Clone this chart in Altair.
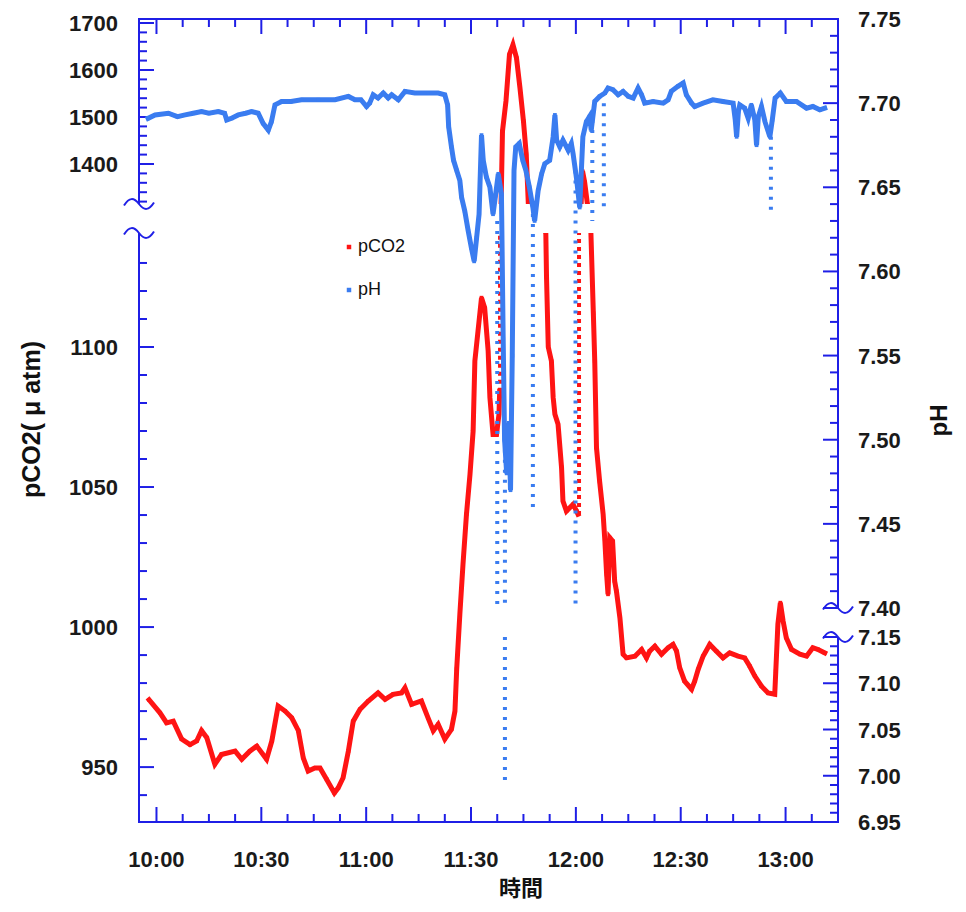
import altair as alt
import pandas as pd

# ---------------- styling ----------------
W, H = 699, 803
RED = "#ff1414"
BLUE = "#3a7cf0"
FRAME = "#1f1fe6"
FONT = "Liberation Sans"
TEXT = "#1a1a1a"
SQUIGGLE = "M-1,0.1 C-0.65,-0.45 -0.35,-0.45 0,0 C0.35,0.45 0.65,0.45 1,-0.1"

# ---------------- data (time = minutes after midnight) ----------------
# pCO2 (uatm), three continuous stretches of the trace
PCO2_T1 = [597.9, 601.0, 602.9, 604.8, 607.2, 609.6, 611.5, 612.9, 614.4, 616.7,
           618.6, 622.5, 624.4, 626.7, 628.7, 631.5, 633.0, 634.8, 636.8, 638.7,
           640.6, 642.0, 643.4, 645.3, 646.8, 648.7, 650.9, 652.0, 653.4, 654.9,
           656.3, 658.2, 660.6, 663.4, 665.4, 667.7, 670.1, 671.1, 673.0, 675.8,
           677.7, 679.2, 680.6, 682.5, 684.4, 685.4, 685.9, 686.8, 687.7, 688.7,
           689.7, 690.6, 691.1, 692.0, 693.0, 693.9, 694.9, 695.4, 696.3, 697.3,
           698.0, 698.2]
PCO2_V1 = [974, 969.4, 965.8, 966.4, 960, 958, 959.3, 963, 960.5, 951,
           954.5, 955.7, 952.8, 955.7, 957.5, 952.8, 959.3, 971.8, 970, 967.6,
           963, 953.3, 948.6, 949.7, 949.7, 945.6, 940.8, 942.6, 946.2, 955.7,
           966.4, 970.6, 973.6, 976.5, 974.2, 976, 976.5, 978.3, 972.4, 973.6,
           967.6, 963, 965.3, 960, 963.5, 970, 985, 1004.5, 1022.4, 1040.3,
           1054.5, 1070, 1095, 1105.7, 1117.6, 1114, 1098.6, 1082, 1068.8, 1068.8,
           1076, 1084.3]
PCO2_T2 = [698.6, 699.0, 700.0, 701.0, 702.0, 703.0, 704.0, 705.0, 705.8, 706.4,
           711.4, 711.6, 712.1, 713.0, 713.5, 714.0, 714.9, 715.9, 716.3, 717.3,
           719.2, 720.2, 720.6]
PCO2_V2 = [1314, 1470, 1534, 1633, 1654, 1626, 1562, 1491.5, 1420.6, 1314,
           1141, 1125, 1100, 1095, 1082, 1076, 1072.4, 1057, 1045, 1041.4,
           1043.8, 1041.4, 1040.3]
PCO2_T3 = [721.5, 721.9, 722.5, 723.3, 724.3, 725.0, 725.4, 725.9, 726.8, 727.8,
           728.3, 728.8, 729.2, 729.7, 730.5, 731.1, 731.6, 732.6, 733.5, 734.5,
           736.9, 738.8, 740.2, 741.1, 742.6, 744.5, 746.4, 747.8, 748.8, 749.7,
           751.1, 753.1, 754.0, 755.0, 756.4, 758.3, 760.2, 762.1, 764.0, 766.4,
           768.3, 769.7, 771.2, 773.1, 775.0, 776.9, 777.2, 777.8, 778.5, 779.3,
           780.2, 781.7, 784.1, 786.0, 787.8, 789.3, 791.2]
PCO2_V3 = [1314, 1385, 1362, 1314, 1141, 1112, 1095, 1064, 1052, 1040.3,
           1030.7, 1018.8, 1011.7, 1031.9, 1030.7, 1016.4, 1012.9, 1003.3, 990.3, 989,
           989.6, 992, 989, 991.4, 993.2, 990.3, 992.6, 993.8, 991.4, 985.5,
           980.7, 977.8, 980.7, 984.9, 989.6, 993.8, 991.4, 989, 990.8, 989.6,
           989, 986.1, 982.5, 978.9, 976.5, 976, 984.3, 1001, 1008.7, 1002.1,
           996.2, 992, 990.3, 989.6, 992.6, 992, 990.8]
# sparse (dotted) pCO2 jumps
PCO2_DOT_T = [698.3, 720.9]
PCO2_DOT_LOW = [1084, 1040]
PCO2_DOT_HIGH = [1141, 1141]

# pH trace
PH_T = [597.6, 599.6, 603.4, 606.0, 608.2, 610.5, 612.9, 615.0, 617.7, 619.5,
        620.1, 621.5, 623.4, 625.5, 627.2, 629.1, 630.5, 632.0, 632.9, 633.9,
        635.8, 638.5, 641.5, 646.3, 651.1, 654.9, 656.8, 658.5, 660.1, 661.0,
        662.0, 663.4, 664.9, 666.3, 667.3, 669.2, 671.1, 673.9, 677.7, 680.6,
        682.5, 683.3, 683.6, 684.4, 685.0, 685.9, 686.8, 687.3, 688.2, 689.2,
        690.1, 690.9, 691.6, 692.3, 693.0, 693.5, 694.4, 695.4, 696.3, 697.0,
        697.8, 698.7, 699.2, 699.6, 700.2, 700.8, 701.3, 701.8, 702.3, 702.8,
        703.8, 704.8, 705.7, 706.7, 707.7, 708.2, 709.2, 710.2, 711.1, 712.5,
        713.5, 714.0, 714.5, 715.4, 716.3, 717.8, 718.7, 719.2, 720.2, 721.1,
        722.0, 723.0, 723.9, 724.4, 725.4, 726.8, 728.3, 729.2, 730.6, 732.1,
        733.5, 735.0, 736.4, 737.8, 738.8, 739.7, 742.1, 745.0, 746.4, 747.3,
        749.2, 750.7, 751.6, 753.1, 754.0, 756.4, 759.2, 762.1, 765.0, 765.6,
        766.0, 766.5, 766.9, 768.3, 769.3, 770.2, 771.2, 771.7, 772.2, 773.1,
        774.1, 775.5, 776.2, 777.0, 778.5, 780.2, 783.1, 786.0, 787.8, 789.8,
        791.2]
PH_V = [7.691, 7.693, 7.694, 7.692, 7.693, 7.694, 7.695, 7.694, 7.695, 7.694,
        7.690, 7.691, 7.693, 7.694, 7.695, 7.694, 7.688, 7.684, 7.689, 7.699,
        7.701, 7.701, 7.702, 7.702, 7.702, 7.704, 7.702, 7.702, 7.698, 7.700,
        7.705, 7.703, 7.706, 7.703, 7.705, 7.702, 7.707, 7.706, 7.706, 7.706,
        7.705, 7.699, 7.686, 7.674, 7.666, 7.660, 7.654, 7.644, 7.636, 7.624,
        7.614, 7.606, 7.620, 7.634, 7.681, 7.666, 7.656, 7.650, 7.634, 7.645,
        7.658, 7.646, 7.560, 7.500, 7.480, 7.510, 7.470, 7.550, 7.660, 7.674,
        7.676, 7.666, 7.660, 7.650, 7.638, 7.630, 7.648, 7.658, 7.664, 7.666,
        7.680, 7.693, 7.678, 7.674, 7.678, 7.672, 7.676, 7.670, 7.655, 7.638,
        7.680, 7.689, 7.692, 7.684, 7.701, 7.704, 7.706, 7.709, 7.708, 7.705,
        7.707, 7.704, 7.703, 7.709, 7.705, 7.700, 7.701, 7.700, 7.702, 7.707,
        7.710, 7.712, 7.705, 7.700, 7.698, 7.700, 7.702, 7.701, 7.700, 7.690,
        7.680, 7.695, 7.699, 7.697, 7.691, 7.699, 7.690, 7.675, 7.692, 7.698,
        7.689, 7.680, 7.690, 7.703, 7.706, 7.701, 7.701, 7.697, 7.698, 7.696,
        7.697]
# sparse (dotted) pH excursions
PH_SPIKE_T = [697.5, 699.7, 699.7, 707.7, 719.9, 724.7, 728.0, 775.8]
PH_SPIKE_TOP = [7.63, 7.50, 7.15, 7.64, 7.66, 7.69, 7.70, 7.68]
PH_SPIKE_BOTTOM = [7.40, 7.40, 6.995, 7.46, 7.40, 7.63, 7.635, 7.635]

# axis definitions (broken axes: piecewise scales)
PCO2_DOMAIN = [930.4, 1140.7, 1314.9, 1708.5]
PCO2_RANGE = [H, 214, 185, 0]
PH_DOMAIN = [6.95, 7.15, 7.40, 7.75]
PH_RANGE = [H, 618, 589, 0]
TIME_DOMAIN = [595, 795]

PCO2_LABELS = [950, 1000, 1050, 1100, 1400, 1500, 1600, 1700]
PCO2_MINOR = [v for v in range(940, 1140, 10) if v not in PCO2_LABELS] + \
             [v for v in range(1320, 1700, 20) if v not in PCO2_LABELS]
PH_LABELS = [6.95, 7.00, 7.05, 7.10, 7.15, 7.40, 7.45, 7.50, 7.55, 7.60, 7.65, 7.70, 7.75]
PH_MINOR = [round(6.95 + i * 0.01, 2) for i in range(21)] + [round(7.40 + i * 0.01, 2) for i in range(36)]
PH_MINOR = [v for v in PH_MINOR if round(v * 100) % 5 != 0]
TIME_LABELS = [600, 630, 660, 690, 720, 750, 780]
TIME_LABEL_TEXT = ["10:00", "10:30", "11:00", "11:30", "12:00", "12:30", "13:00"]
TIME_MINOR = [600 + 7.5 * i for i in range(26) if (7.5 * i) % 30 != 0]

X_TITLE = "時間"
PCO2_TITLE = "pCO2( μ atm)"
PH_TITLE = "pH"

# ---------------- tables ----------------
pco2_df = pd.concat([
    pd.DataFrame({"t": PCO2_T1, "v": PCO2_V1, "run": 1}),
    pd.DataFrame({"t": PCO2_T2, "v": PCO2_V2, "run": 2}),
    pd.DataFrame({"t": PCO2_T3, "v": PCO2_V3, "run": 3}),
], ignore_index=True)
pco2_df["series"] = "pCO2"
pco2_dot_df = pd.DataFrame({"t": PCO2_DOT_T, "lo": PCO2_DOT_LOW, "hi": PCO2_DOT_HIGH})
ph_df = pd.DataFrame({"t": PH_T, "v": PH_V})
ph_df["series"] = "pH"
ph_spike_df = pd.DataFrame({"t": PH_SPIKE_T, "top": PH_SPIKE_TOP, "bottom": PH_SPIKE_BOTTOM})
one_row = pd.DataFrame({"k": [0]})

X_SCALE = alt.Scale(domain=TIME_DOMAIN, nice=False, zero=False)
PCO2_SCALE = alt.Scale(domain=PCO2_DOMAIN, range=PCO2_RANGE, nice=False, zero=False)
PH_SCALE = alt.Scale(domain=PH_DOMAIN, range=PH_RANGE, nice=False, zero=False)
COLOR_SCALE = alt.Scale(domain=["pCO2", "pH"], range=[RED, BLUE])

legend = alt.Legend(
    title=None, orient="none", legendX=201, legendY=219, symbolType="square",
    symbolSize=20, symbolStrokeWidth=0, labelFontSize=18, labelFont=FONT,
    labelColor="#111111", rowPadding=25, labelOffset=0, padding=0,
)


def x_ticks(values, y0, y1):
    return alt.Chart(pd.DataFrame({"t": values})).mark_rule(color=FRAME, strokeWidth=2).encode(
        x=alt.X("t:Q", scale=X_SCALE, axis=None), y=alt.value(y0), y2=alt.value(y1))


def y_ticks(values, scale, x0, x1):
    return alt.Chart(pd.DataFrame({"v": values})).mark_rule(color=FRAME, strokeWidth=2).encode(
        y=alt.Y("v:Q", scale=scale, axis=None), x=alt.value(x0), x2=alt.value(x1))


def squiggles(values, scale, xpos):
    return alt.Chart(pd.DataFrame({"v": values})).mark_point(
        shape=SQUIGGLE, size=900, filled=False, color=FRAME, strokeWidth=2, opacity=1
    ).encode(y=alt.Y("v:Q", scale=scale, axis=None), x=alt.value(xpos))


def y_labels(values, scale, xpos, align, fmt):
    return alt.Chart(pd.DataFrame({"v": values})).mark_text(
        font=FONT, fontSize=22, fontWeight="bold", color=TEXT, align=align,
        baseline="middle", dy=1
    ).encode(y=alt.Y("v:Q", scale=scale, axis=None), x=alt.value(xpos),
             text=alt.Text("v:Q", format=fmt))


def title_text(text, x, y, angle, font, size):
    return alt.Chart(one_row).mark_text(
        text=text, font=font, fontSize=size, fontWeight="bold", color="#111111",
        align="center", baseline="middle", angle=angle,
    ).encode(x=alt.value(x), y=alt.value(y))


# ---------------- pCO2 group ----------------
pco2_line = alt.Chart(pco2_df).mark_line(color=RED, strokeWidth=5, strokeCap="square").encode(
    x=alt.X("t:Q", scale=X_SCALE, axis=None),
    y=alt.Y("v:Q", scale=PCO2_SCALE, axis=None),
    detail="run:N",
)
pco2_pts = alt.Chart(pco2_df).mark_square(size=14, opacity=1).encode(
    x=alt.X("t:Q", scale=X_SCALE, axis=None),
    y=alt.Y("v:Q", scale=PCO2_SCALE, axis=None),
    color=alt.Color("series:N", scale=COLOR_SCALE, legend=legend),
)
pco2_dots = alt.Chart(pco2_dot_df).mark_rule(color=RED, strokeWidth=4, strokeDash=[4, 4]).encode(
    x=alt.X("t:Q", scale=X_SCALE, axis=None),
    y=alt.Y("lo:Q", scale=PCO2_SCALE, axis=None), y2="hi:Q",
)
pco2_mask = alt.Chart(pd.DataFrame({"lo": [PCO2_DOMAIN[1]], "hi": [PCO2_DOMAIN[2]]})).mark_rect(
    color="white").encode(
    y=alt.Y("lo:Q", scale=PCO2_SCALE, axis=None), y2="hi:Q", x=alt.value(-6), x2=alt.value(W - 2))

time_labels = alt.Chart(pd.DataFrame({"t": TIME_LABELS, "lab": TIME_LABEL_TEXT})).mark_text(
    font=FONT, fontSize=22, fontWeight="bold", color=TEXT, align="center", baseline="middle"
).encode(x=alt.X("t:Q", scale=X_SCALE, axis=None), y=alt.value(H + 38), text="lab:N")

left_group = alt.layer(
    pco2_line, pco2_pts, pco2_dots, pco2_mask,
    y_ticks(PCO2_LABELS, PCO2_SCALE, 0, 15),
    y_ticks(PCO2_MINOR, PCO2_SCALE, 0, 8),
    x_ticks(TIME_LABELS, H, H - 15), x_ticks(TIME_MINOR, H, H - 8),
    x_ticks(TIME_LABELS, 0, 15), x_ticks(TIME_MINOR, 0, 8),
    squiggles([PCO2_DOMAIN[1], PCO2_DOMAIN[2]], PCO2_SCALE, 0),
    y_labels(PCO2_LABELS, PCO2_SCALE, -21, "right", "d"),
    time_labels,
    title_text(PCO2_TITLE, -107, H / 2 - 1, 270, FONT, 25),
    title_text(X_TITLE, 382, H + 67, 0, "Noto Sans CJK JP", 22),
)

# ---------------- pH group ----------------
ph_line = alt.Chart(ph_df).mark_line(color=BLUE, strokeWidth=5, strokeCap="square").encode(
    x=alt.X("t:Q", scale=X_SCALE, axis=None),
    y=alt.Y("v:Q", scale=PH_SCALE, axis=None),
)
ph_pts = alt.Chart(ph_df).mark_square(size=14, opacity=1).encode(
    x=alt.X("t:Q", scale=X_SCALE, axis=None),
    y=alt.Y("v:Q", scale=PH_SCALE, axis=None),
    color=alt.Color("series:N", scale=COLOR_SCALE, legend=legend),
)
ph_spikes = alt.Chart(ph_spike_df).mark_rule(color=BLUE, strokeWidth=4, strokeDash=[3, 7]).encode(
    x=alt.X("t:Q", scale=X_SCALE, axis=None),
    y=alt.Y("top:Q", scale=PH_SCALE, axis=None), y2="bottom:Q",
)
ph_mask = alt.Chart(pd.DataFrame({"lo": [PH_DOMAIN[1]], "hi": [PH_DOMAIN[2]]})).mark_rect(
    color="white").encode(
    y=alt.Y("lo:Q", scale=PH_SCALE, axis=None), y2="hi:Q", x=alt.value(W - 4), x2=alt.value(W + 5))

right_group = alt.layer(
    ph_line, ph_pts, ph_spikes, ph_mask,
    y_ticks(PH_LABELS, PH_SCALE, W, W - 15),
    y_ticks(PH_MINOR, PH_SCALE, W, W - 8),
    squiggles([PH_DOMAIN[1], PH_DOMAIN[2]], PH_SCALE, W),
    y_labels(PH_LABELS, PH_SCALE, W + 20, "left", ".2f"),
    title_text(PH_TITLE, W + 102, H / 2, 270, FONT, 24),
)

chart = alt.layer(left_group, right_group).resolve_scale(y="independent").properties(
    width=W, height=H,
    autosize=alt.AutoSizeParams(type="none"),
    padding={"left": 131, "top": 11, "right": 120, "bottom": 82},
    background="white",
).configure_view(stroke=FRAME, strokeWidth=2)

chart.save("out.html", embed_options={"renderer": "svg", "actions": False})
